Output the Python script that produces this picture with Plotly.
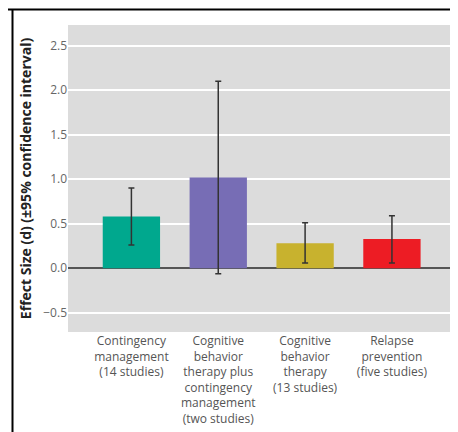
import plotly.graph_objects as go

categories = [
    "Contingency<br>management<br>(14 studies)",
    "Cognitive<br>behavior<br>therapy plus<br>contingency<br>management<br>(two studies)",
    "Cognitive<br>behavior<br>therapy<br>(13 studies)",
    "Relapse<br>prevention<br>(five studies)",
]
effect = [0.58, 1.02, 0.28, 0.33]
ci_high = [0.90, 2.10, 0.51, 0.59]
ci_low = [0.26, -0.06, 0.06, 0.06]
colors = ["#00A88E", "#776DB5", "#C8B22E", "#ED1C24"]
y_ticks = [-0.5, 0.0, 0.5, 1.0, 1.5, 2.0, 2.5]
y_ticklabels = ["\u22120.5", "0.0", "0.5", "1.0", "1.5", "2.0", "2.5"]

err_plus = [h - v for h, v in zip(ci_high, effect)]
err_minus = [v - l for v, l in zip(effect, ci_low)]

FONT = "Open Sans"

# page body has an 8px margin, so the figure is 8px smaller and offset
W, H = 450, 424
L, R, T, B = 60, 7, 17, 100
PW, PH = W - L - R, H - T - B

fig = go.Figure()
fig.add_trace(go.Bar(
    x=list(range(len(categories))),
    y=effect,
    marker=dict(color=colors, line=dict(width=0)),
    width=0.66,
    error_y=dict(type="data", array=err_plus, arrayminus=err_minus,
                 color="#333333", thickness=1.5, width=3),
    showlegend=False,
))

fig.update_layout(
    width=W, height=H,
    margin=dict(l=L, r=R, t=T, b=B, autoexpand=False),
    paper_bgcolor="white",
    plot_bgcolor="#DCDCDC",
    font=dict(family=FONT, size=12, color="#555555"),
    xaxis=dict(
        tickmode="array",
        tickvals=list(range(len(categories))),
        ticktext=categories,
        range=[-0.73, 3.68],
        showgrid=False, zeroline=False, showline=False,
        ticks="", ticklabelstandoff=0, automargin=False,
        tickfont=dict(size=12, color="#555555"),
    ),
    yaxis=dict(
        range=[-0.715, 2.73],
        tickmode="array",
        tickvals=y_ticks,
        ticktext=y_ticklabels,
        showgrid=True, gridcolor="white", gridwidth=1.5,
        zeroline=True, zerolinecolor="#555555", zerolinewidth=1.5,
        showline=False, ticks="", automargin=False,
        tickfont=dict(size=12, color="#666666"),
        title=dict(text="<b>Effect Size (d) (\u00b195% confidence interval)</b>",
                   font=dict(size=14, color="#222222", family=FONT),
                   standoff=8),
    ),
    shapes=[
        dict(type="line", xref="paper", yref="paper",
             x0=(0 - L) / PW, x1=(W - L) / PW,
             y0=1 + (T - 1.5) / PH, y1=1 + (T - 1.5) / PH,
             line=dict(color="black", width=2)),
        dict(type="line", xref="paper", yref="paper",
             x0=(4.5 - L) / PW, x1=(4.5 - L) / PW,
             y0=-B / PH, y1=1 + (T - 1.5) / PH,
             line=dict(color="black", width=2)),
    ],
)

fig.write_html("out.html")
